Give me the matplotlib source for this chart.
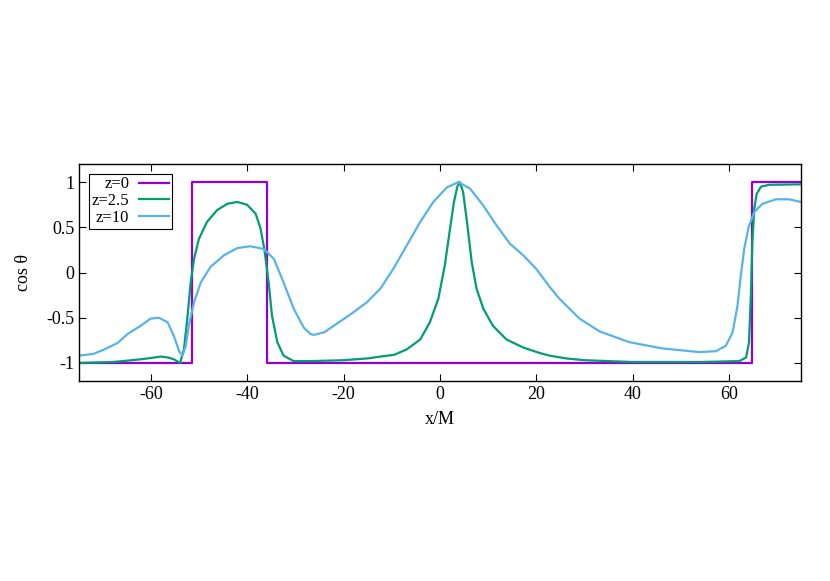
#!/usr/bin/env python3
# -*- coding: utf-8 -*-
"""
cos(theta) profiles along x/M for three z values.
"""

import matplotlib
matplotlib.use("Agg")
import matplotlib.pyplot as plt

### set rcParams
config = {
    "font.family": "serif",
    "font.serif": ["Liberation Serif", "DejaVu Serif"],
    "font.size": 13,
    "mathtext.fontset": "stix",
}
plt.rcParams.update(config)

# z=0 : step profile
x_z0 = [-75, -51.5, -51.5, -35.9, -35.9, 64.8, 64.8, 75]
y_z0 = [-1, -1, 1, 1, -1, -1, 1, 1]

# z=2.5
x_z25 = [-75, -68, -64, -62.2, -60, -58, -56.5, -55.3, -54.0, -53.2, -52.5, -51.8,
         -51.1, -50.1, -48.4, -46.3, -44.2, -42.1, -40.1, -38.3, -37.3, -36.5,
         -35.6, -34.9, -33.8, -32.5, -30.4, -26.9, -20, -15, -12.4, -9.5, -6.9,
         -4.1, -2.1, -0.35, 1.0, 2.1, 2.9, 3.6, 4.1, 4.8, 5.7, 6.6, 7.6, 9.0,
         11.0, 13.8, 17.3, 20.7, 22.8, 26.2, 30, 40, 53.9, 62.2, 63.6, 64.2,
         64.6, 64.9, 65.3, 65.8, 66.7, 68.4, 75]
y_z25 = [-1, -0.99, -0.97, -0.96, -0.945, -0.93, -0.94, -0.96, -1.0, -0.85, -0.51, -0.11,
         0.15, 0.37, 0.56, 0.69, 0.76, 0.78, 0.75, 0.65, 0.49, 0.26,
         -0.11, -0.48, -0.77, -0.92, -0.98, -0.98, -0.97, -0.95, -0.93, -0.91, -0.85,
         -0.74, -0.55, -0.29, 0.08, 0.49, 0.78, 0.95, 1.0, 0.89, 0.52, 0.11, -0.18, -0.40,
         -0.59, -0.74, -0.83, -0.89, -0.92, -0.95, -0.97, -0.99, -0.99, -0.98, -0.94, -0.77,
         -0.22, 0.34, 0.71, 0.87, 0.95, 0.97, 0.975]

# z=10
x_z10 = [-75, -72, -69.7, -67, -64.9, -62.2, -60.1, -58.4, -56.6, -55.3, -54.2,
         -53.5, -52.8, -52.2, -51.1, -49.7, -47.7, -44.9, -42.1, -39.4, -36.6,
         -34.5, -32.5, -30.4, -28.3, -26.9, -26.2, -24, -22.1, -18.5, -15.2, -12.4,
         -9.7, -6.9, -4.1, -1.4, 1.4, 3.8, 6.2, 9.0, 11.75, 14.5, 17.3, 20.0,
         22.8, 24.8, 29, 33.1, 39.3, 46.2, 50, 53.9, 57.3, 59.4, 60.8, 61.8,
         62.5, 63.2, 64.1, 65.3, 67.0, 69.8, 72.5, 75]
y_z10 = [-0.92, -0.90, -0.85, -0.78, -0.68, -0.59, -0.51, -0.50, -0.55, -0.70, -0.87,
         -0.92, -0.81, -0.59, -0.33, -0.11, 0.06, 0.19, 0.27, 0.29, 0.26,
         0.15, -0.11, -0.40, -0.61, -0.68, -0.69, -0.66, -0.59, -0.46, -0.33, -0.18,
         0.04, 0.30, 0.56, 0.78, 0.94, 1.0, 0.93, 0.74, 0.52, 0.32, 0.19, 0.04,
         -0.16, -0.29, -0.51, -0.65, -0.77, -0.84, -0.86, -0.88, -0.87, -0.81, -0.66, -0.37,
         -0.03, 0.26, 0.50, 0.67, 0.76, 0.81, 0.81, 0.78]

labels = ["z=0", "z=2.5", "z=10"]
colors = ["#9400d3", "#009e73", "#56b4e9"]

xticks = [-60, -40, -20, 0, 20, 40, 60]
yticks = [-1, -0.5, 0, 0.5, 1]


fig = plt.figure(figsize=(8.3, 5.81), dpi=100)
ax = fig.add_axes([79 / 830, 1 - 381 / 581, 722 / 830, 217 / 581])

ax.plot(x_z0, y_z0, color=colors[0], lw=1.6, label=labels[0])
ax.plot(x_z25, y_z25, color=colors[1], lw=1.6, label=labels[1])
ax.plot(x_z10, y_z10, color=colors[2], lw=1.6, label=labels[2])

ax.set_xlim(-75, 75)
ax.set_ylim(-1.2, 1.2)
ax.set_xticks(xticks)
ax.set_yticks(yticks)
ax.set_xticklabels([str(t) for t in xticks])
ax.set_yticklabels(["-1", "-0.5", "0", "0.5", "1"])
ax.tick_params(direction="in", top=True, right=True, length=5, width=0.8, labelsize=13)
for sp in ax.spines.values():
    sp.set_linewidth(1.0)

ax.set_xlabel("x/M", fontsize=13, labelpad=6)
ax.set_ylabel("cos θ", fontsize=13, labelpad=10)

leg = ax.legend(loc="upper left", markerfirst=False, fontsize=12, frameon=True,
                fancybox=False, edgecolor="black", framealpha=1,
                borderpad=0.15, labelspacing=0.05, handlelength=1.8,
                handletextpad=0.6, borderaxespad=0.6)
leg.get_frame().set_linewidth(0.8)

fig.savefig("out.png", dpi=100)
plt.close()
